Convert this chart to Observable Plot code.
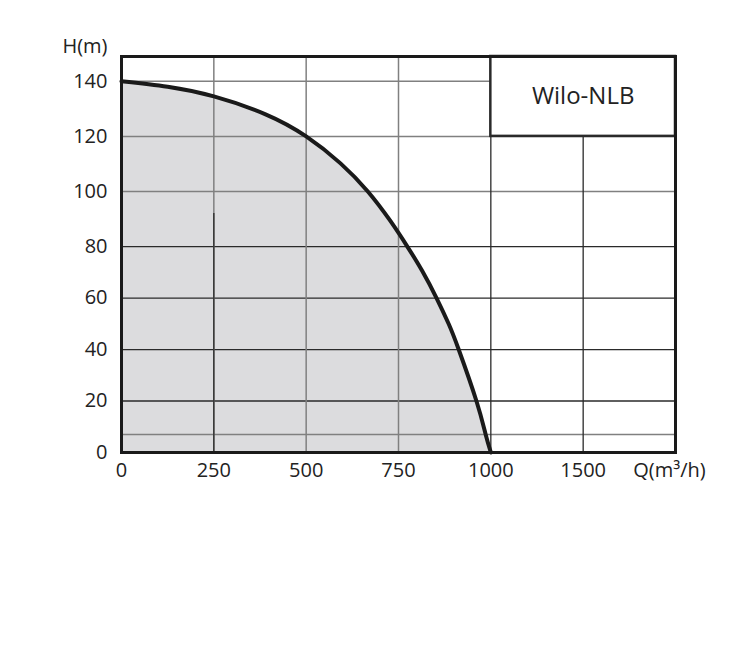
<!DOCTYPE html>
<html>
<head>
<meta charset="utf-8">
<script src="https://cdn.jsdelivr.net/npm/d3@7"></script>
<script src="https://cdn.jsdelivr.net/npm/@observablehq/plot@0.6"></script>
<style>
  html, body { margin: 0; padding: 0; background: #fff; }
</style>
</head>
<body>
<div id="chart"></div>
<script>
// Pump curve Wilo-NLB: flow Q (m³/h) vs head H (m)
const flowQ = [0, 125, 250, 390, 500, 593, 667, 728, 774, 814, 853, 886, 913, 961, 986, 1000];
const headH = [140, 138, 134.5, 128, 120, 110.2, 100, 89.3, 80, 70.6, 60, 49.9, 40, 20, 7, 0];

const xTicks = [0, 250, 500, 750, 1000, 1500];
const yTicks = [0, 20, 40, 60, 80, 100, 120, 140];
const xGridGray = [250, 500, 750];
const xGridDark = [1000, 1500];
const yGridGray = [7, 100, 120, 140];
const yGridDark = [20, 40, 60, 80];
const xMax = 2000;
const yTop = 149;
const legendLabel = "Wilo-NLB";
const xAxisTitle = "Q(m³/h)";
const yAxisTitle = "H(m)";

const data = flowQ.map((q, i) => ({q, h: headH[i]}));

// the paper chart's axes are piecewise: 0–1000 in steps of 250, then steps of 500
const xT = q => q <= 1000 ? q / 250 : 4 + (q - 1000) / 500;
const yT = h => h <= 80 ? h : 80 + (h - 80) * 1.07;
const xTickPos = xTicks.map(xT);
const yTickPos = yTicks.map(yT);

const dark = "#2a2a2a";
const gray = "#808080";

const chart = Plot.plot({
  width: 738,
  height: 664,
  marginLeft: 121,
  marginRight: 63,
  marginTop: 56,
  marginBottom: 212,
  style: {fontFamily: "'Open Sans', sans-serif", fontSize: "20px", color: "#222", background: "#fff"},
  x: {transform: xT},
  y: {transform: yT},
  marks: [
    Plot.areaY(data, {x: "q", y: "h", fill: "#dcdcde", curve: "natural"}),
    Plot.ruleY(yGridGray, {stroke: gray, strokeWidth: 1.5}),
    Plot.ruleY(yGridDark, {stroke: dark, strokeWidth: 1.3}),
    Plot.ruleX(xGridGray, {stroke: gray, strokeWidth: 1.5}),
    Plot.ruleX(xGridDark, {stroke: dark, strokeWidth: 1.3}),
    Plot.ruleX([250], {y1: 0, y2: 92, stroke: dark, strokeWidth: 1.3}),
    Plot.line(data, {x: "q", y: "h", stroke: "#1a1a1a", strokeWidth: 4, curve: "natural"}),
    Plot.rect([legendLabel], {x1: 1000, x2: xMax, y1: 120, y2: yTop, fill: "#fff", stroke: dark, strokeWidth: 2.5}),
    Plot.text([legendLabel], {x: 1500, y: 134.5, text: d => d, fontSize: 24, fill: "#222"}),
    Plot.frame({stroke: "#1a1a1a", strokeWidth: 3}),
    Plot.axisX({ticks: xTickPos, tickFormat: t => String(xTicks[xTickPos.indexOf(t)]), tickSize: 0, tickPadding: 10, label: null, fontSize: 20}),
    Plot.axisY({ticks: yTickPos, tickFormat: t => String(yTicks[yTickPos.indexOf(t)]), tickSize: 0, tickPadding: 14, label: null, fontSize: 20}),
    Plot.text([yAxisTitle], {x: 0, y: yTop, dx: -14, dy: -10, text: d => d, textAnchor: "end", fontSize: 20, fill: "#222"}),
    Plot.text([xAxisTitle], {x: xMax, y: 0, dx: -6, dy: 10, text: d => d, lineAnchor: "top", fontSize: 20, fill: "#222"})
  ]
});
document.getElementById("chart").appendChild(chart);
</script>
</body>
</html>
